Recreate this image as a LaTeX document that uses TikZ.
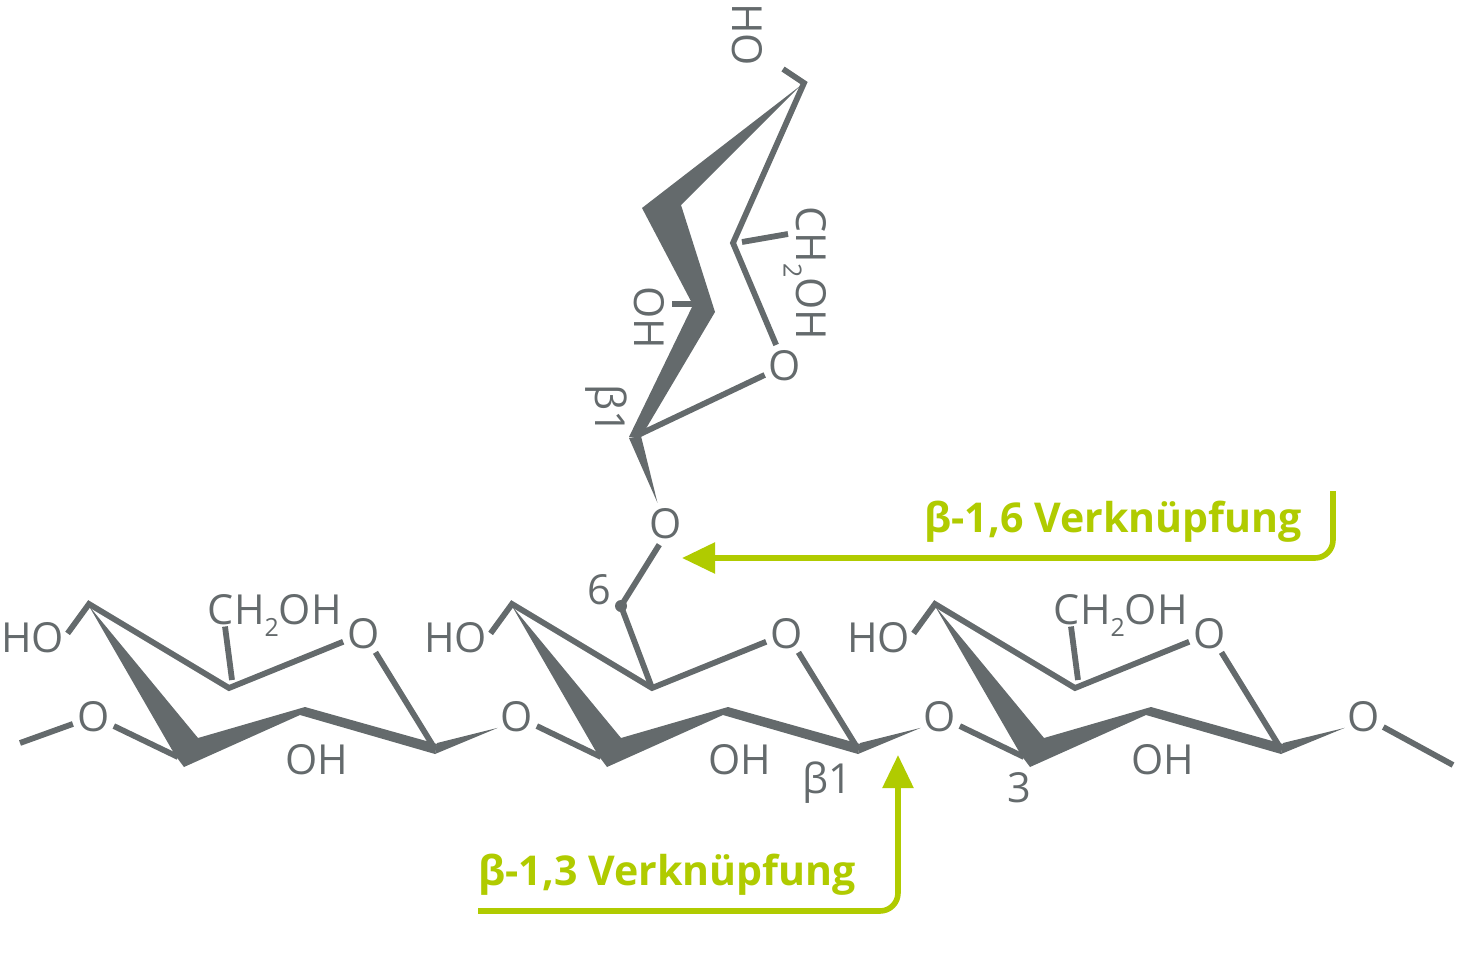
\documentclass[tikz,border=0pt]{standalone}
\usepackage{fontspec}
\setmainfont{Open Sans}
\usetikzlibrary{arrows.meta}
\definecolor{sugargray}{HTML}{646A6C}
\definecolor{linkgreen}{HTML}{B0CB00}
\newcommand{\subtwo}{\raisebox{-.3em}{\fontsize{12.5}{12.5}\selectfont 2}}
\tikzset{
  atom/.style={
    text=sugargray,
    font=\fontsize{20.7}{21}\selectfont,
    inner sep=0pt,
    text height=14.7pt,
    text depth=0pt,
    xshift=0.4pt,
    yshift=-0.2pt
  },
  oxygen/.style={
    atom,
    circle,
    minimum size=20pt
  },
  turned/.style={
    atom,
    rotate=-90
  },
  bond/.style={
    draw=sugargray,
    line width=2.9pt
  },
  wedge/.style={
    fill=sugargray
  },
  linkarrow/.style={
    draw=linkgreen,
    line width=2.8pt,
    rounded corners=9pt,
    -{Triangle[length=16.5pt,width=15pt]}
  },
  linklabel/.style={
    text=linkgreen,
    font=\fontsize{20.55}{21}\selectfont\bfseries,
    inner sep=0pt,
    anchor=base west
  }
}
\begin{document}
\begin{tikzpicture}[x=0.5pt,y=-0.5pt]
  \useasboundingbox (0,0) rectangle (1458,958);
  % the three chair rings of the chain
  \foreach \ring/\dx in {a/0,b/423,c/846} {
    \begin{scope}[shift={(\dx,0)}]
      \coordinate (\ring-top) at (89,604);
      \coordinate (\ring-back) at (229,688);
      \coordinate (\ring-right) at (435,749);
      \coordinate (\ring-low) at (178,757);
      \node[atom] (\ring-HO) at (32,637) {HO};
      \node[atom] (\ring-OH) at (316,759) {OH};
      \node[oxygen] (\ring-Oleft) at (93,716) {O};
      \node[oxygen] (\ring-Oright) at (363,633) {O};
      \draw[bond] ([shift={(3,-4)}]\ring-HO.east) -- (\ring-top) -- (\ring-back) -- (\ring-Oright);
      \draw[bond] (\ring-Oright) -- (\ring-right);
      \draw[bond] (\ring-Oleft) -- (\ring-low);
      \fill[wedge] (89,606) -- (198,738) -- (305,707) -- (437,744) -- (435,754)
        -- (300,715) -- (184,767) -- (175,755) -- cycle;
    \end{scope}
  }
  \node[oxygen] (d-Oleft) at (1363,716) {O};
  \foreach \ring/\next in {a/b,b/c,c/d} {
    \fill[wedge] ([shift={(2,-6)}]\ring-right) -- (\next-Oleft.211) -- ([shift={(0,5)}]\ring-right) -- cycle;
  }
  \coordinate (chain-start) at (20,743);
  \coordinate (chain-end) at (1453,765);
  \draw[bond] (chain-start) -- (a-Oleft);
  \draw[bond] (d-Oleft) -- (chain-end);
  % side groups
  \node[atom] (a-CH) at (274,609) {CH\subtwo OH};
  \node[atom] (c-CH) at (1120,609) {CH\subtwo OH};
  \draw[bond] (a-CH.south -| 225,0) ++(0,2) -- (232,680);
  \draw[bond] (c-CH.south -| 1071,0) ++(0,2) -- (1078,680);
  \node[atom] (beta-a) at (827,778) {β1};
  \node[atom] (three) at (1019,787) {3};
  \node[atom] (six) at (599,589) {6};
  \node[circle,fill=sugargray,minimum size=6pt,inner sep=0pt] (six-dot) at (621,606) {};
  \node[oxygen] (link-O) at (665,523) {O};
  \draw[bond] (six-dot.center) -- (b-back);
  \draw[bond] (link-O.-107) -- (six-dot.center);
  % the turned ring on top
  \node[turned] (top-HO) at (746,34) {HO};
  \node[turned] (top-CH) at (810,273) {CH\subtwo OH};
  \node[turned] (top-OH) at (648,317) {OH};
  \node[turned] (beta-top) at (609,409) {β1};
  \node[oxygen] (top-O) at (784,365) {O};
  \coordinate (top-apex) at (804,83);
  \coordinate (top-back) at (733,243);
  \coordinate (top-foot) at (636,436);
  \coordinate (top-hoend) at (783,69);
  \draw[bond] (top-hoend) -- (top-apex) -- (top-back) -- (top-O);
  \draw[bond] (top-O) -- (top-foot);
  \draw[bond] (742,242) -- (788,234);
  \draw[bond] (672,304) -- (695,304);
  \fill[wedge] (800,86) -- (681,205) -- (715,312) -- (641,437) -- (629,437)
    -- (693,305) -- (642,208) -- cycle;
  \fill[wedge] (629,438) -- (link-O.112) -- (641,436) -- cycle;
  % the two links
  \coordinate (link16-start) at (1333,491);
  \coordinate (link16-bend) at (1333,558);
  \coordinate (link16-end) at (682,558);
  \coordinate (link13-start) at (478,911);
  \coordinate (link13-bend) at (898,911);
  \coordinate (link13-end) at (898,755);
  \draw[linkarrow] (link16-start) -- (link16-bend) -- (link16-end);
  \draw[linkarrow] (link13-start) -- (link13-bend) -- (link13-end);
  \node[linklabel] (label16) at (924,532) {β-1,6 Verknüpfung};
  \node[linklabel] (label13) at (478,885) {β-1,3 Verknüpfung};
\end{tikzpicture}
\end{document}
